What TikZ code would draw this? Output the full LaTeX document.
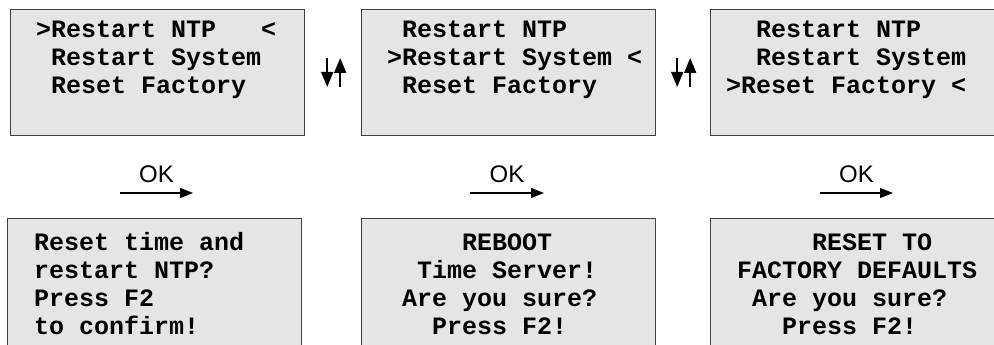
\documentclass[tikz,border=0pt]{standalone}
\usepackage{fontspec}
\setmainfont{Liberation Sans}
\newfontfamily\lcdmono{Liberation Mono}
\usetikzlibrary{arrows.meta,positioning}
\newcommand{\lcdstrut}{\rule{0pt}{20pt}}
\begin{document}
\begin{tikzpicture}[x=1pt,y=-1pt,
  lcd/.style={draw=black!75, line width=1.2pt, fill=black!10, anchor=north west,
    minimum width=294pt, minimum height=126pt, inner sep=0pt},
  lcdtext/.style={font=\lcdmono\bfseries\fontsize{25}{28}\selectfont, align=left,
    anchor=north west, inner sep=0pt},
  okarrow/.style={-{Triangle[length=13pt,width=10pt]}, line width=1.1pt},
  updown/.style={-{Triangle[length=15pt,width=12pt]}, line width=1.6pt},
  oklabel/.style={font=\fontsize{24}{28}\selectfont, anchor=base, inner sep=0pt}]
\useasboundingbox (0,0) rectangle (994,345);
\clip (0,0) rectangle (994,345);
% menu screens
\node[lcd] (m1) at (10,9) {};
\node[lcd] (m2) at (361,9) {};
\node[lcd] (m3) at (710,9) {};
\node[lcdtext] (t1) at ([shift={(26,8)}]m1.north west) {\lcdstrut>Restart NTP~~~<\\~Restart System\\~Reset Factory};
\node[lcdtext] (t2) at ([shift={(26,8)}]m2.north west) {\lcdstrut~Restart NTP\\>Restart System~<\\~Reset Factory};
\node[lcdtext] (t3) at ([shift={(16,8)}]m3.north west) {\lcdstrut~~Restart NTP\\~~Restart System\\>Reset Factory~<};
% confirm screens
\node[lcd, minimum height=135pt] (c1) at (7,218) {};
\node[lcd, minimum height=135pt] (c2) at (361,218) {};
\node[lcd, minimum height=135pt] (c3) at (710,218) {};
\node[lcdtext] (u1) at ([shift={(27,12)}]c1.north west) {\lcdstrut Reset time and\\restart NTP?\\Press F2\\to confirm!};
\node[lcdtext] (u2) at ([shift={(26,12)}]c2.north west) {\lcdstrut~~~~~REBOOT\\~~Time Server!\\~Are you sure?\\~~~Press F2!};
\node[lcdtext] (u3) at ([shift={(27,12)}]c3.north west) {\lcdstrut~~~~~RESET TO\\FACTORY DEFAULTS\\~Are you sure?\\~~~Press F2!};
% up/down keys
\coordinate (k1t) at ([shift={(22,49)}]m1.north east);
\coordinate (k1b) at ([shift={(22,78)}]m1.north east);
\coordinate (k2t) at ([shift={(35,49)}]m1.north east);
\coordinate (k2b) at ([shift={(35,78)}]m1.north east);
\coordinate (k3t) at ([shift={(21,49)}]m2.north east);
\coordinate (k3b) at ([shift={(21,78)}]m2.north east);
\coordinate (k4t) at ([shift={(34,49)}]m2.north east);
\coordinate (k4b) at ([shift={(34,78)}]m2.north east);
\draw[updown] (k1t) -- (k1b);
\draw[updown] (k2b) -- (k2t);
\draw[updown] (k3t) -- (k3b);
\draw[updown] (k4b) -- (k4t);
% OK keys
\coordinate (o1s) at ([shift={(113,-25)}]c1.north west);
\coordinate (o1e) at ([shift={(186,-25)}]c1.north west);
\coordinate (o2s) at ([shift={(109,-25)}]c2.north west);
\coordinate (o2e) at ([shift={(183,-25)}]c2.north west);
\coordinate (o3s) at ([shift={(110,-25)}]c3.north west);
\coordinate (o3e) at ([shift={(183,-25)}]c3.north west);
\draw[okarrow] (o1s) -- (o1e) node[midway, yshift=11pt, oklabel] (ok1) {OK};
\draw[okarrow] (o2s) -- (o2e) node[midway, yshift=11pt, oklabel] (ok2) {OK};
\draw[okarrow] (o3s) -- (o3e) node[midway, yshift=11pt, oklabel] (ok3) {OK};
\end{tikzpicture}
\end{document}
